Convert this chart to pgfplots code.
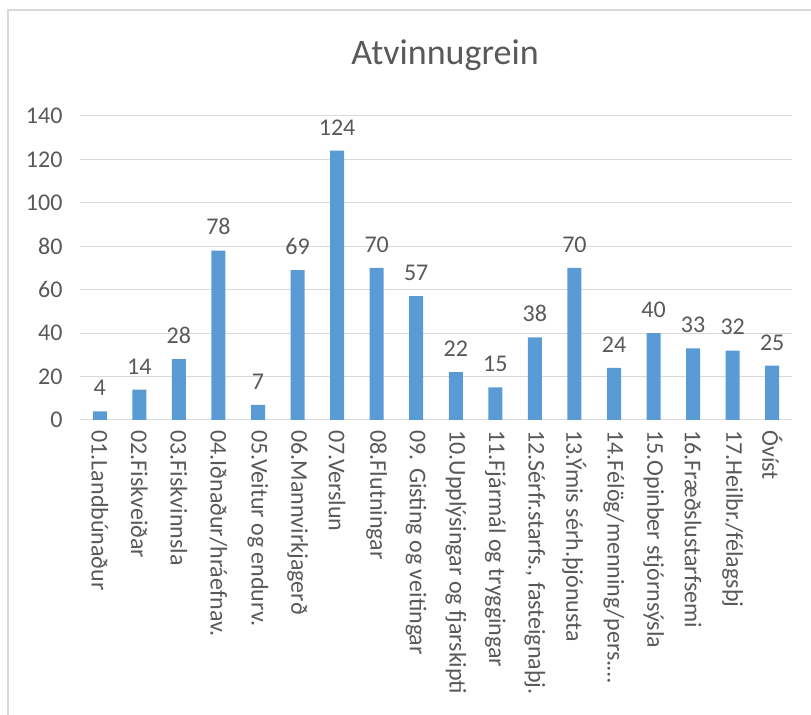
\documentclass[border=0pt]{standalone}
\usepackage{pgfplots}
\pgfplotsset{compat=1.18}
\usepackage{fontspec}
\setmainfont{Carlito}
\definecolor{barblue}{HTML}{5B9BD5}
\definecolor{txtgrey}{HTML}{595959}
\definecolor{gridgrey}{HTML}{D9D9D9}
\begin{document}
\begin{tikzpicture}
\begin{axis}[
  scale only axis=true,
  width=712bp, height=304bp,
  at={(80bp,295bp)}, anchor=south west,
  ymin=0, ymax=140,
  ytick={0,20,...,140},
  xmin=-0.5, xmax=17.5,
  xtick=data,
  xticklabels={01.Landbúnaður,02.Fiskveiðar,03.Fiskvinnsla,04.Iðnaður/hráefnav.,05.Veitur og endurv.,06.Mannvirkjagerð,07.Verslun,08.Flutningar,09. Gisting og veitingar,10.Upplýsingar og fjarskipti,11.Fjármál og tryggingar,{12.Sérfr.starfs., fasteignaþj.},13.Ýmis sérh.þjónusta,14.Félög/menning/pers.…,15.Opinber stjórnsýsla,16.Fræðslustarfsemi,17.Heilbr./félagsþj,Óvíst},
  axis x line*=bottom,
  axis y line*=left,
  x axis line style={gridgrey, line width=1bp, -},
  y axis line style={draw=none},
  major tick length=0pt,
  ymajorgrids=true,
  grid style={gridgrey, line width=1bp},
  /pgf/number format/assume math mode=true,
  tick label style={font=\fontsize{24bp}{28bp}\selectfont, text=txtgrey},
  yticklabel style={anchor=east, xshift=-14bp},
  xticklabel style={rotate=-90, anchor=west},
  xticklabel shift=7bp,
  ybar, bar width=14bp,
  nodes near coords,
  every node near coord/.append style={font=\fontsize{24bp}{28bp}\selectfont, text=txtgrey, yshift=12bp},
  clip=false,
]
\addplot[fill=barblue, draw=none] coordinates {
(0,4) (1,14) (2,28) (3,78) (4,7) (5,69) (6,124) (7,70) (8,57)
(9,22) (10,15) (11,38) (12,70) (13,24) (14,40) (15,33) (16,32) (17,25)
};
\end{axis}
\node[text=txtgrey, font=\fontsize{36bp}{42bp}\selectfont] at (445bp,660bp) {Atvinnugrein};
\draw[gridgrey, line width=1.2bp] (8bp,0bp) -- (8bp,705bp) -- (811bp,705bp);
\pgfresetboundingbox
\path[use as bounding box] (0bp,0bp) rectangle (811bp,715bp);
\end{tikzpicture}
\end{document}
